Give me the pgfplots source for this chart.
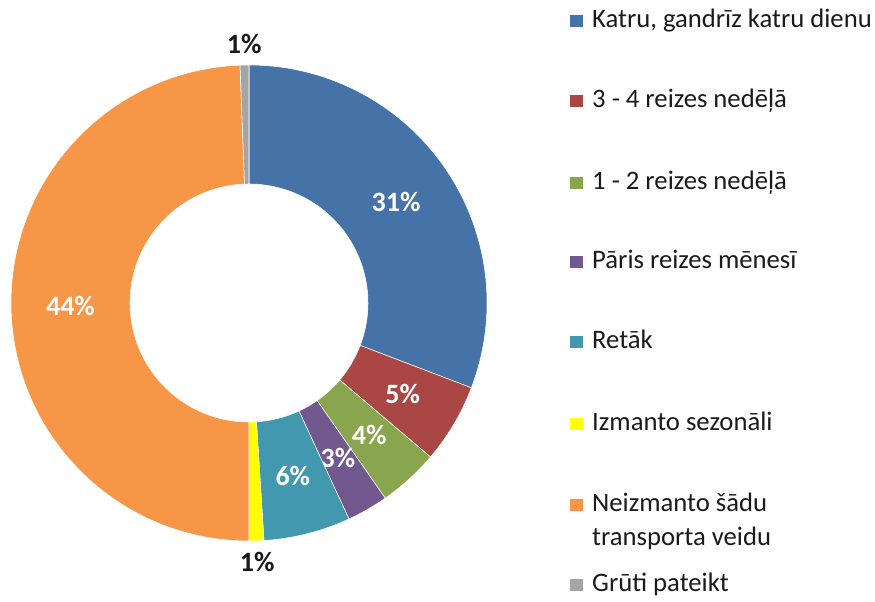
\documentclass[border=0pt]{standalone}
\usepackage{pgfplots}
\usepackage{pgfplotstable}
\usepackage{fontspec}
\setmainfont{Carlito}
\pgfplotsset{compat=1.18}
\definecolor{c1}{HTML}{4572A7}
\definecolor{c2}{HTML}{AA4643}
\definecolor{c3}{HTML}{89A54E}
\definecolor{c4}{HTML}{71588F}
\definecolor{c5}{HTML}{4198AF}
\definecolor{c6}{HTML}{FFFF00}
\definecolor{c7}{HTML}{F79646}
\definecolor{c8}{HTML}{A5A5A5}
\definecolor{txt}{HTML}{1A1A1A}
% share = angular share of the ring, label = printed value
\pgfplotstableread{
share label
30.8 31
5.4  5
4.1  4
2.8  3
5.9  6
1.0  1
49.4 44
0.6  1
}\data
\def\Ro{178.5}
\def\Ri{89.25}
\begin{document}
\begin{tikzpicture}
\begin{axis}[hide axis, clip=false, x=1pt, y=1pt,
  xmin=-186.75, xmax=469.5, ymin=-222, ymax=227.25]
\addplot[draw=none] coordinates {(0,0)};
\pgfplotsextra{
  \path (axis cs:-186.75,-222) rectangle (axis cs:469.5,227.25);
  \xdef\cum{0}
  \foreach \i/\col/\out in {0/c1/0,1/c2/0,2/c3/0,3/c4/0,4/c5/0,5/c6/1,6/c7/0,7/c8/1} {
    \pgfplotstablegetelem{\i}{share}\of\data \let\v\pgfplotsretval
    \pgfplotstablegetelem{\i}{label}\of\data \let\lab\pgfplotsretval
    \pgfmathsetmacro\aS{90-3.6*\cum}
    \pgfmathsetmacro\aE{90-3.6*(\cum+\v)}
    \pgfmathsetmacro\aM{(\aS+\aE)/2}
    \fill[\col, draw=white, line width=0.4pt]
      (axis cs:{\Ro*cos(\aS)},{\Ro*sin(\aS)}) arc[start angle=\aS, end angle=\aE, radius=\Ro pt]
      -- (axis cs:{\Ri*cos(\aE)},{\Ri*sin(\aE)}) arc[start angle=\aE, end angle=\aS, radius=\Ri pt] -- cycle;
    \ifnum\out=0
      \node[white, font=\fontsize{21}{24}\selectfont\bfseries] at (axis cs:{133.9*cos(\aM)},{133.9*sin(\aM)}) {\lab\%};
    \else
      \node[txt, font=\fontsize{21}{24}\selectfont\bfseries] at (axis cs:{194*cos(\aM)},{194*sin(\aM)}) {\lab\%};
    \fi
    \pgfmathsetmacro\newcum{\cum+\v}
    \xdef\cum{\newcum}
  }
  \foreach \y/\col/\t in {211.5/c1/{Katru, gandrīz katru dienu},151.5/c2/{3 - 4 reizes nedēļā},
      90/c3/{1 - 2 reizes nedēļā},30.75/c4/{Pāris reizes mēnesī},-29.25/c5/{Retāk},
      -90.75/c6/{Izmanto sezonāli},-151.5/c7/{Neizmanto šādu},-211.5/c8/{Grūti pateikt}} {
    \fill[\col] (axis cs:240.9,\y-4.7) rectangle (axis cs:250.3,\y+4.7);
    \node[txt, anchor=west, inner sep=0pt, font=\fontsize{20}{24}\selectfont] at (axis cs:257.2,\y) {\strut\t};
  }
  \node[txt, anchor=west, inner sep=0pt, font=\fontsize{20}{24}\selectfont] at (axis cs:257.2,-177) {\strut transporta veidu};
}
\end{axis}
\end{tikzpicture}
\end{document}
